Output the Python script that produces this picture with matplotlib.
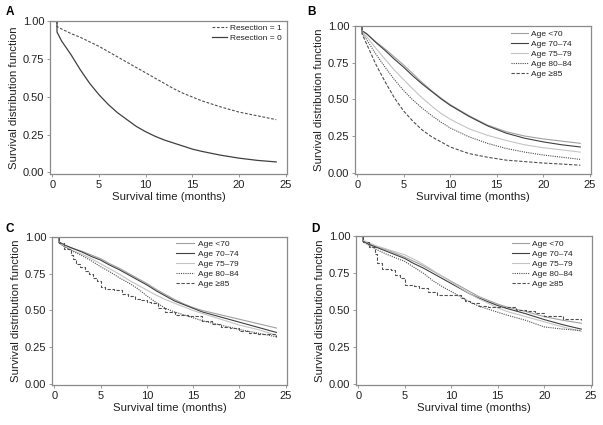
import matplotlib
matplotlib.use("Agg")
import matplotlib.pyplot as plt

plt.rcParams['font.family'] = ['Liberation Sans', 'DejaVu Sans']

# ---------------- data ----------------
# Panel A
tA = [0, 0.5, 0.5, 1, 2, 3, 4, 5, 6, 7, 8, 9, 10, 11, 12, 13, 14, 15, 16, 18, 20, 22, 24]
res1 = [1, 1, 0.965, 0.95, 0.92, 0.895, 0.865, 0.835, 0.80, 0.765, 0.73, 0.695, 0.66, 0.625,
        0.59, 0.555, 0.525, 0.50, 0.475, 0.435, 0.40, 0.375, 0.35]
res0 = [1, 1, 0.93, 0.87, 0.78, 0.68, 0.59, 0.515, 0.45, 0.395, 0.35, 0.305, 0.27, 0.24,
        0.215, 0.195, 0.175, 0.155, 0.14, 0.115, 0.095, 0.08, 0.07]
labels_A = ["Resection = 1", "Resection = 0"]

# Panel B
tB = [0, 0.5, 0.5, 1, 2, 3, 4, 5, 6, 7, 8, 9, 10, 12, 14, 16, 18, 20, 22, 24]
B_lt70 = [1, 1, 0.97, 0.95, 0.895, 0.845, 0.79, 0.735, 0.675, 0.615, 0.56, 0.51, 0.465,
          0.39, 0.325, 0.28, 0.25, 0.23, 0.215, 0.20]
B_7074 = [1, 1, 0.97, 0.95, 0.89, 0.835, 0.775, 0.72, 0.66, 0.605, 0.555, 0.505, 0.46,
          0.385, 0.32, 0.27, 0.235, 0.21, 0.19, 0.175]
B_7579 = [1, 1, 0.965, 0.93, 0.85, 0.775, 0.70, 0.635, 0.57, 0.51, 0.455, 0.405, 0.365,
          0.30, 0.255, 0.22, 0.19, 0.17, 0.155, 0.14]
B_8084 = [1, 1, 0.96, 0.91, 0.81, 0.72, 0.635, 0.56, 0.495, 0.44, 0.39, 0.345, 0.305,
          0.245, 0.20, 0.165, 0.14, 0.12, 0.105, 0.09]
B_ge85 = [1, 1, 0.95, 0.88, 0.74, 0.62, 0.51, 0.42, 0.35, 0.29, 0.245, 0.21, 0.175,
          0.13, 0.105, 0.085, 0.075, 0.065, 0.058, 0.05]

# Panel C
tC = [0, 0.5, 0.5, 1, 2, 3, 4, 5, 6, 7, 8, 9, 10, 11, 12, 13, 14, 15, 16, 18, 20, 22, 24]
C_lt70 = [1, 1, 0.97, 0.95, 0.925, 0.905, 0.88, 0.855, 0.82, 0.79, 0.755, 0.72, 0.685,
          0.645, 0.61, 0.575, 0.545, 0.52, 0.50, 0.47, 0.44, 0.41, 0.38]
C_7074 = [1, 1, 0.97, 0.95, 0.925, 0.90, 0.87, 0.845, 0.81, 0.78, 0.745, 0.71, 0.675,
          0.635, 0.60, 0.565, 0.54, 0.515, 0.49, 0.455, 0.42, 0.385, 0.35]
C_7579 = [1, 1, 0.965, 0.945, 0.91, 0.885, 0.855, 0.82, 0.785, 0.75, 0.71, 0.675, 0.64,
          0.605, 0.575, 0.55, 0.525, 0.50, 0.48, 0.44, 0.40, 0.37, 0.33]
C_8084 = [1, 1, 0.965, 0.94, 0.905, 0.875, 0.84, 0.80, 0.765, 0.725, 0.69, 0.65, 0.60,
          0.555, 0.515, 0.49, 0.47, 0.45, 0.43, 0.40, 0.37, 0.345, 0.32]
tC85 = [0, 0.5, 1.0, 1.8, 2.0, 2.3, 2.8, 3.3, 3.7, 4.2, 4.6, 5.1, 5.5, 6.5, 7.3, 8.0, 8.7,
        9.4, 10.0, 10.5, 11.2, 12.0, 13.0, 14.5, 16, 17, 18, 19, 20, 21, 22, 24]
C_ge85 = [1, 0.96, 0.92, 0.88, 0.85, 0.82, 0.80, 0.77, 0.75, 0.72, 0.70, 0.66, 0.65, 0.64,
          0.61, 0.60, 0.58, 0.57, 0.56, 0.55, 0.52, 0.49, 0.47, 0.46, 0.43, 0.41, 0.39,
          0.38, 0.36, 0.345, 0.34, 0.32]

# Panel D
tD = tC
D_lt70 = [1, 1, 0.97, 0.955, 0.93, 0.91, 0.885, 0.86, 0.83, 0.80, 0.765, 0.73, 0.695,
          0.66, 0.625, 0.59, 0.565, 0.54, 0.52, 0.49, 0.455, 0.43, 0.41]
D_7074 = [1, 1, 0.97, 0.95, 0.925, 0.90, 0.875, 0.85, 0.815, 0.785, 0.75, 0.715, 0.68,
          0.645, 0.61, 0.58, 0.555, 0.53, 0.51, 0.475, 0.435, 0.40, 0.37]
D_7579 = [1, 1, 0.975, 0.96, 0.935, 0.915, 0.895, 0.875, 0.845, 0.81, 0.77, 0.73, 0.69,
          0.65, 0.61, 0.575, 0.545, 0.515, 0.49, 0.455, 0.42, 0.385, 0.355]
D_8084 = [1, 1, 0.965, 0.945, 0.91, 0.88, 0.855, 0.83, 0.79, 0.75, 0.70, 0.66, 0.625,
          0.59, 0.555, 0.525, 0.505, 0.485, 0.465, 0.43, 0.385, 0.37, 0.36]
tD85 = [0, 0.5, 1.2, 1.8, 2.0, 2.5, 3.5, 4.0, 4.5, 5.0, 6.0, 6.5, 7.5, 8.5, 10.5, 11.0,
        11.5, 12.0, 13.0, 14.0, 15.5, 17.0, 18.0, 19.0, 20.0, 22.0, 24.0]
D_ge85 = [1, 0.96, 0.93, 0.88, 0.82, 0.78, 0.77, 0.74, 0.72, 0.67, 0.66, 0.65, 0.62, 0.60,
          0.60, 0.58, 0.56, 0.55, 0.53, 0.52, 0.52, 0.50, 0.49, 0.48, 0.46, 0.44, 0.43]

age_labels = ["Age <70", "Age 70\u201374", "Age 75\u201379", "Age 80\u201384", "Age \u226585"]
xticks = [0, 5, 10, 15, 20, 25]
yticks = [0.0, 0.25, 0.5, 0.75, 1.0]

# ---------------- figure ----------------
W, H = 603, 425
fig = plt.figure(figsize=(W / 100, H / 100), dpi=100)


def add_ax(l, t, r, b):
    return fig.add_axes([l / W, 1 - b / H, (r - l) / W, (b - t) / H])


age_styles = [
    dict(color='#a0a0a0', lw=0.8, ls='-'),
    dict(color='#404040', lw=0.8, ls='-'),
    dict(color='#c4c4c4', lw=0.8, ls='-'),
    dict(color='#505050', lw=0.8, ls=(0, (1, 1))),
    dict(color='#505050', lw=0.8, ls=(0, (3, 1.5))),
]


def style(ax, letter, lx, ly):
    ax.set_xlim(-0.25, 25.15)
    ax.set_ylim(-0.01, 1.003)
    ax.set_xticks(xticks)
    ax.set_yticks(yticks)
    ax.set_yticklabels([f"{v:.2f}" for v in yticks])
    for s in ax.spines.values():
        s.set_color('#8a8a8a')
        s.set_linewidth(0.9)
    ax.tick_params(direction='out', length=2, width=0.6, color='#8a8a8a',
                   labelsize=8, pad=2, labelcolor='#222222')
    ax.set_xlabel("Survival time (months)", fontsize=8.2, labelpad=2, color='#222222')
    ax.set_ylabel("Survival distribution function", fontsize=8.2, labelpad=3, color='#222222')
    fig.text(lx / W, 1 - ly / H, letter, fontsize=8.5, fontweight='bold',
             ha='left', va='center')


# A
axA = add_ax(50, 21, 287, 174)
axA.plot(tA, res1, color='#505050', lw=0.8, ls=(0, (2.5, 1.5)), label=labels_A[0])
axA.plot(tA, res0, color='#404040', lw=0.9, ls='-', label=labels_A[1])
style(axA, "A", 6, 12)

# B
axB = add_ax(355, 26, 591, 174)
for vals, st, lab in zip([B_lt70, B_7074, B_7579, B_8084, B_ge85], age_styles, age_labels):
    axB.plot(tB, vals, label=lab, **st)
style(axB, "B", 307, 12)

# C
axC = add_ax(52, 237, 287, 385)
for vals, st, lab in zip([C_lt70, C_7074, C_7579, C_8084], age_styles[:4], age_labels[:4]):
    axC.plot(tC, vals, label=lab, **st)
axC.plot(tC85, C_ge85, drawstyle='steps-post', label=age_labels[4], **age_styles[4])
style(axC, "C", 6, 229)

# D
axD = add_ax(356, 236, 592, 385)
for vals, st, lab in zip([D_lt70, D_7074, D_7579, D_8084], age_styles[:4], age_labels[:4]):
    axD.plot(tD, vals, label=lab, **st)
axD.plot(tD85, D_ge85, drawstyle='steps-post', label=age_labels[4], **age_styles[4])
style(axD, "D", 311, 229)


def legend(ax, x, y, hl, tp=0.4):
    leg = ax.legend(loc='upper left', bbox_to_anchor=(x / W, 1 - y / H),
                    bbox_transform=fig.transFigure, frameon=False, fontsize=6,
                    handlelength=hl, handletextpad=tp, labelspacing=0.25,
                    borderpad=0, borderaxespad=0)
    for t in leg.get_texts():
        t.set_color('#222222')
    return leg


legend(axA, 212, 24, 1.8, 0.3)
legend(axB, 511, 30, 2.0)
legend(axC, 176, 240, 2.2)
legend(axD, 512, 240, 2.0)

fig.savefig("out.png", dpi=100)
